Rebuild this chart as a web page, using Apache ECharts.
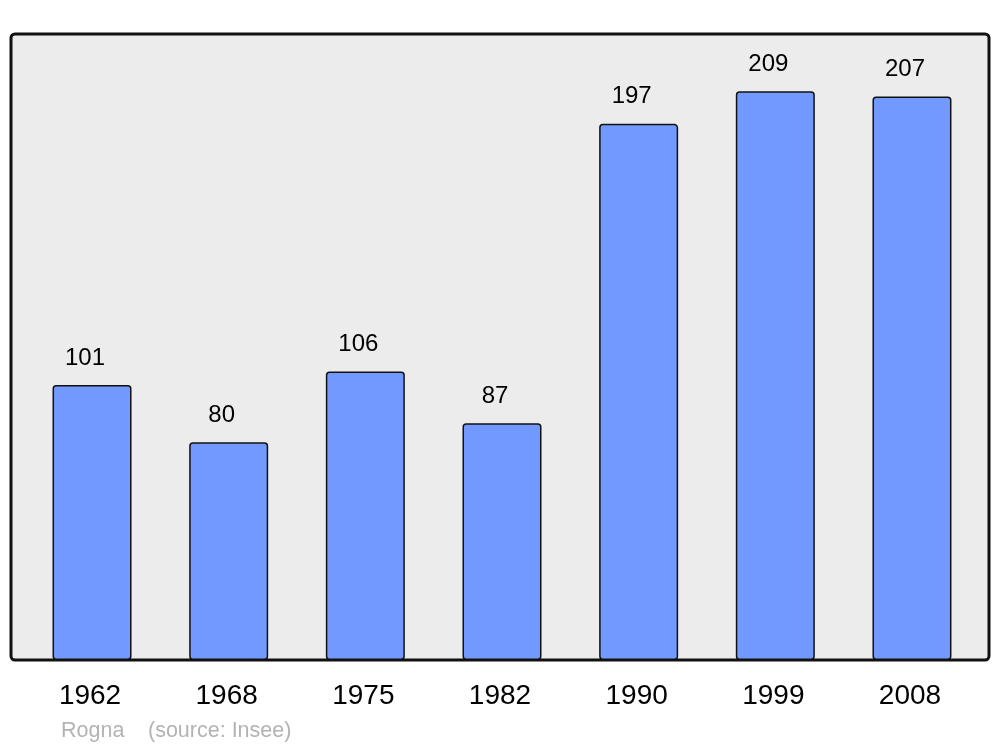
<!DOCTYPE html>
<html>
<head>
<meta charset="utf-8">
<script src="https://cdn.jsdelivr.net/npm/echarts@6/dist/echarts.min.js"></script>
<style>
html,body{margin:0;padding:0;background:#fff;}
#main{width:1000px;height:747px;}
</style>
</head>
<body>
<div id="main"></div>
<script>
// data
var years = ['1962', '1968', '1975', '1982', '1990', '1999', '2008'];
var population = [101, 80, 106, 87, 197, 209, 207];
var townName = 'Rogna';
var sourceText = '(source: Insee)';

var myChart = echarts.init(document.getElementById('main'));

var option = {
    animation: false,
    textStyle: { fontFamily: 'Liberation Sans' },
    grid: {
        left: 23.7,
        right: 19.7,
        top: 34,
        bottom: 87
    },
    graphic: [
        {
            type: 'rect',
            z: -1,
            shape: { x: 11, y: 34, width: 978, height: 626, r: 4 },
            style: { fill: '#ececec', stroke: '#111', lineWidth: 3 }
        },
        {
            type: 'text',
            left: 61,
            top: 720,
            style: { text: townName, fill: '#b3b3b3', font: '21.5px "Liberation Sans"' }
        },
        {
            type: 'text',
            left: 148,
            top: 720,
            style: { text: sourceText, fill: '#b3b3b3', font: '21.5px "Liberation Sans"' }
        }
    ],
    xAxis: {
        type: 'category',
        data: years,
        axisLine: { show: false },
        axisTick: { show: false },
        axisLabel: {
            color: '#000',
            fontSize: 28,
            margin: 22,
            padding: [0, 4, 0, 0]
        }
    },
    yAxis: {
        type: 'value',
        min: 0,
        max: 230,
        show: false,
        splitLine: { show: false }
    },
    series: [
        {
            type: 'bar',
            data: population,
            barWidth: 79,
            itemStyle: {
                color: '#7299ff',
                borderColor: '#111',
                borderWidth: 1.5,
                borderRadius: 3
            },
            label: {
                show: true,
                position: 'top',
                distance: 15,
                offset: [-7, 0],
                color: '#000',
                fontSize: 24
            }
        }
    ]
};

myChart.setOption(option);
</script>
</body>
</html>
